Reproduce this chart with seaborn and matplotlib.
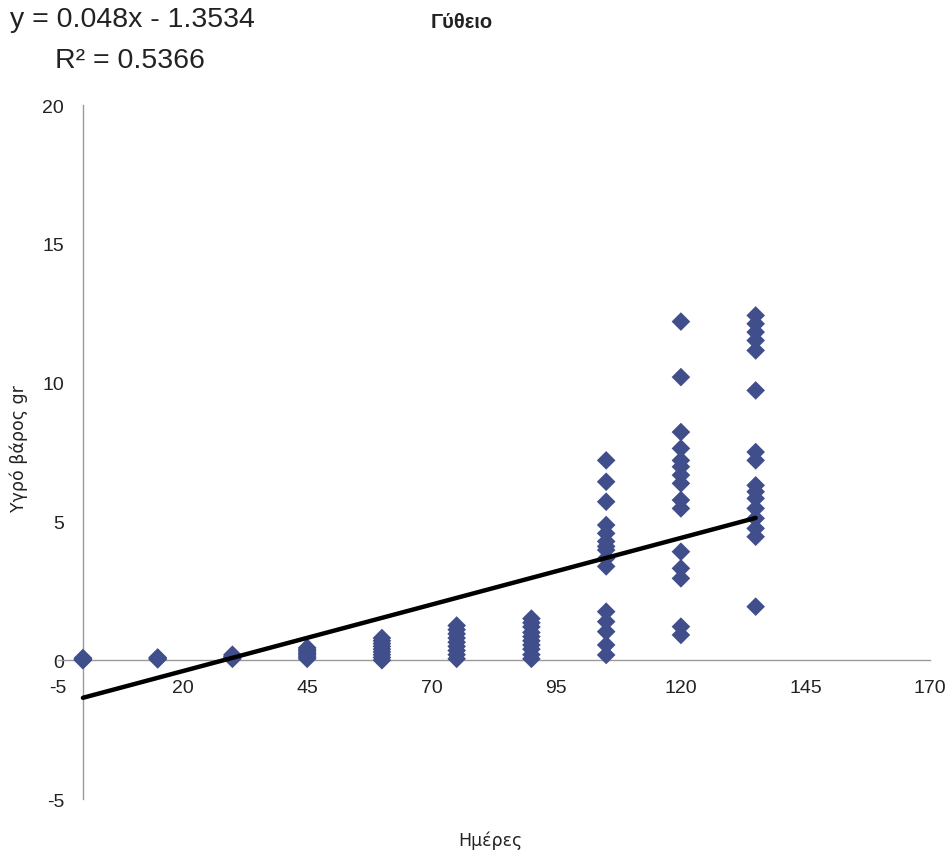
import matplotlib
matplotlib.use("Agg")
from matplotlib import pyplot as plt
import pandas as pd
import seaborn as sns

# days and wet weight (gr)
days = (
    [0] * 5 + [15] * 4 + [30] * 5 + [45] * 9 + [60] * 9 + [75] * 9 + [90] * 10
    + [105] * 15 + [120] * 15 + [135] * 16
)
weight = [
    0.02, 0.05, 0.03, 0.08, 0.0,
    0.05, 0.08, 0.1, 0.03,
    0.05, 0.1, 0.15, 0.2, 0.12,
    0.05, 0.1, 0.15, 0.2, 0.25, 0.3, 0.35, 0.4, 0.45,
    0.0, 0.1, 0.2, 0.3, 0.4, 0.5, 0.6, 0.7, 0.8,
    0.05, 0.2, 0.35, 0.5, 0.65, 0.8, 0.95, 1.1, 1.25,
    0.05, 0.2, 0.4, 0.55, 0.7, 0.85, 1.0, 1.2, 1.35, 1.5,
    7.2, 6.43, 5.71, 4.87, 4.57, 4.28, 3.97, 3.67, 3.38, 1.75, 1.39, 1.03, 0.55, 0.19, 4.1,
    12.2, 10.2, 8.22, 7.63, 7.2, 6.97, 6.67, 6.37, 5.77, 5.47, 3.91, 3.31, 2.95, 1.21, 0.91,
    12.42, 12.12, 11.82, 11.52, 11.16, 9.72, 7.5, 7.2, 6.3, 6.07, 5.83, 5.47, 5.11, 4.75, 4.45, 1.93,
]

slope = 0.048
intercept = -1.3534
fit_days = [0, 135]

x_ticks = [-5, 20, 45, 70, 95, 120, 145, 170]
y_ticks = [-5, 0, 5, 10, 15, 20]

data = pd.DataFrame({"days": days, "weight": weight})
fit = pd.DataFrame({"days": fit_days})
fit["weight"] = slope * fit["days"] + intercept

sns.set_style("white")
plt.rcParams["font.family"] = ["Liberation Sans", "DejaVu Sans"]
plt.rcParams["axes.unicode_minus"] = False

fig = plt.figure(figsize=(9.51, 8.54), dpi=100)
ax = fig.add_axes([0.061, 0.0632, 0.917, 0.8126])

sns.scatterplot(data=data, x="days", y="weight", marker="D", s=90,
                color="#404e8c", edgecolor="none", ax=ax, zorder=3)
sns.lineplot(data=fit, x="days", y="weight", color="black", linewidth=3.2,
             ax=ax, zorder=4)

ax.set_xlim(-5, 170)
ax.set_ylim(-5, 20)
ax.set_xticks(x_ticks)
ax.set_yticks(y_ticks)

for side in ["top", "right"]:
    ax.spines[side].set_visible(False)
ax.spines["left"].set_position(("data", 0))
ax.spines["bottom"].set_position(("data", 0))
for side in ["left", "bottom"]:
    ax.spines[side].set_color("#9a9a9a")
    ax.spines[side].set_linewidth(1.0)

ax.tick_params(axis="both", direction="out", length=3.5, width=1.0,
               color="#9a9a9a", labelsize=14, labelcolor="#222222")
ax.tick_params(axis="x", pad=10)
ax.tick_params(axis="y", pad=10)

ax.set_xlabel("")
ax.set_ylabel("")
fig.text(0.516, 0.016, "Ημέρες", ha="center", va="center", fontsize=12.5,
         family=["DejaVu Sans"], color="#222222")
fig.text(0.020, 0.475, "Υγρό βάρος gr", ha="center", va="center", rotation=90,
         fontsize=12.5, family=["DejaVu Sans"], color="#222222")

fig.text(0.486, 0.974, "Γύθειο", ha="center", va="center", fontsize=14.5,
         fontweight="bold", color="#222222")
fig.text(0.010, 0.976, f"y = {slope}x - {abs(intercept)}", ha="left", va="center",
         fontsize=20.5, color="#222222")
fig.text(0.058, 0.929, "R² = 0.5366", ha="left", va="center",
         fontsize=20.5, color="#222222")

path = "out.png"
plt.savefig(path, dpi=100)
print(f"Saved figure to {path}.")
plt.close()
